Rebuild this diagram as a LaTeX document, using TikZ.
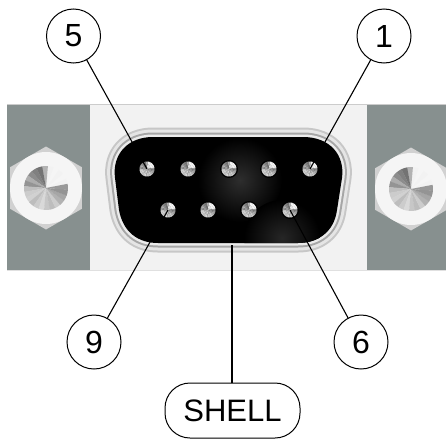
\documentclass[tikz,border=0pt]{standalone}
\usepackage{fontspec}
\setmainfont{Liberation Sans}
\usetikzlibrary{positioning,shapes.geometric}

\newcommand{\DrawCone}[2]{
  \begin{scope}[shift={(#1)}]
    \foreach \a/\g in {10/5,25/4,40/5,55/4,70/5,85/30,100/55,115/50,130/45,145/32,160/42,175/25,
                       190/20,205/18,220/26,235/20,250/15,265/22,280/26,295/20,310/30,325/35,340/42,355/40}{
      \fill[black!\g] (0,0) -- ({-\a}:#2) -- ({-\a-8}:#2) -- ({-\a-16}:#2) -- cycle;
    }
  \end{scope}
}
\newcommand{\ShellPath}{
  (153,137) -- (303,137) .. controls (330,137) and (345,155) .. (342,178) -- (337,210)
  .. controls (334,232) and (318,243) .. (298,243) -- (158,243)
  .. controls (138,243) and (123,232) .. (119,210) -- (115,178)
  .. controls (112,155) and (127,137) .. (153,137) -- cycle
}

\begin{document}
\begin{tikzpicture}[x=1pt,y=-1pt]
  \tikzset{BubbleStyle/.style = {
    shape         = circle,
    draw          = black,
    fill          = white,
    line width    = 1pt,
    text          = black,
    inner sep     = 0pt,
    outer sep     = 0pt,
    minimum size  = 54pt,
    font          = \fontsize{32}{32}\selectfont
    }
  }
  \tikzset{ShellLabelStyle/.style = {
    shape           = rectangle,
    rounded corners = 25pt,
    draw            = black,
    fill            = white,
    line width      = 1pt,
    text            = black,
    inner sep       = 0pt,
    outer sep       = 0pt,
    minimum width   = 135pt,
    minimum height  = 55pt,
    font            = \fontsize{31}{31}\selectfont
    }
  }
  \tikzset{PinStyle/.style = {
    shape         = circle,
    fill          = black,
    inner sep     = 0pt,
    outer sep     = 0pt,
    minimum size  = 18pt
    }
  }
  \tikzset{HexStyle/.style = {
    shape              = regular polygon,
    regular polygon sides = 6,
    shape border rotate = 30,
    fill               = black!18,
    inner sep          = 0pt,
    outer sep          = 0pt,
    minimum size       = 83pt
    }
  }
  \tikzset{WasherStyle/.style = {
    shape         = circle,
    fill          = black!4,
    inner sep     = 0pt,
    outer sep     = 0pt,
    minimum size  = 72pt
    }
  }
  \tikzset{LeaderStyle/.style = {
    draw          = black,
    line width    = 1.1pt
    }
  }
  \tikzset{GroundStyle/.style = {
    draw          = black,
    line width    = 2pt
    }
  }
  \definecolor{PanelGray}{HTML}{87908F}

  \useasboundingbox (0,0) rectangle (446,439);

  % mounting flange
  \fill[PanelGray] (7,104) rectangle (90,270);
  \fill[PanelGray] (367,104) rectangle (446,270);
  \fill[black!5] (90,104) rectangle (367,270);
  \draw[black!20, line width=1pt] (7,104) -- (446,104);
  \draw[black!12, line width=1pt] (7,270) -- (446,270);

  % nuts
  \node[HexStyle](HexL) at (46,188) {};
  \node[HexStyle](HexR) at (411,189) {};
  \node[WasherStyle](NutL) at (46,188) {};
  \node[WasherStyle](NutR) at (411,189) {};
  \DrawCone{NutL}{22}
  \DrawCone{NutR}{22}

  % shell
  \draw[black!22, line width=19pt, line join=round] \ShellPath;
  \draw[black!10, line width=15pt, line join=round] \ShellPath;
  \draw[black!35, line width=9pt,  line join=round] \ShellPath;
  \draw[black!8,  line width=5pt,  line join=round] \ShellPath;
  \fill[black] \ShellPath;
  \begin{scope}
    \clip \ShellPath;
    \shade[inner color=black!82, outer color=black] (240,180) circle (42);
    \shade[inner color=black!85, outer color=black] (282,238) circle (38);
  \end{scope}

  % pins
  \node[PinStyle](P1) at (310,169) {};
  \node[PinStyle](P2) at (269,169) {};
  \node[PinStyle](P3) at (229,169) {};
  \node[PinStyle](P4) at (188,169) {};
  \node[PinStyle](P5) at (147,169) {};
  \node[PinStyle](P6) at (290,210) {};
  \node[PinStyle](P7) at (249,210) {};
  \node[PinStyle](P8) at (208,210) {};
  \node[PinStyle](P9) at (168,210) {};
  \foreach \p in {P1,P2,P3,P4,P5,P6,P7,P8,P9}{
    \DrawCone{\p}{7.5}
  }

  % labels
  \node[BubbleStyle](N5) at (73.5,36) {5};
  \node[BubbleStyle](N1) at (384,36) {1};
  \node[BubbleStyle](N9) at (94,342) {9};
  \node[BubbleStyle](N6) at (361,342) {6};
  \node[ShellLabelStyle](SHELL) at (232.5,410.5) {SHELL};
  \coordinate (ShellEdge) at (232,245);

  \draw[LeaderStyle](N5) to (P5.center);
  \draw[LeaderStyle](N1) to (P1.center);
  \draw[LeaderStyle](N9) to (P9.center);
  \draw[LeaderStyle](N6) to (P6.center);
  \draw[GroundStyle](SHELL.north -| ShellEdge) to (ShellEdge);
\end{tikzpicture}
\end{document}
